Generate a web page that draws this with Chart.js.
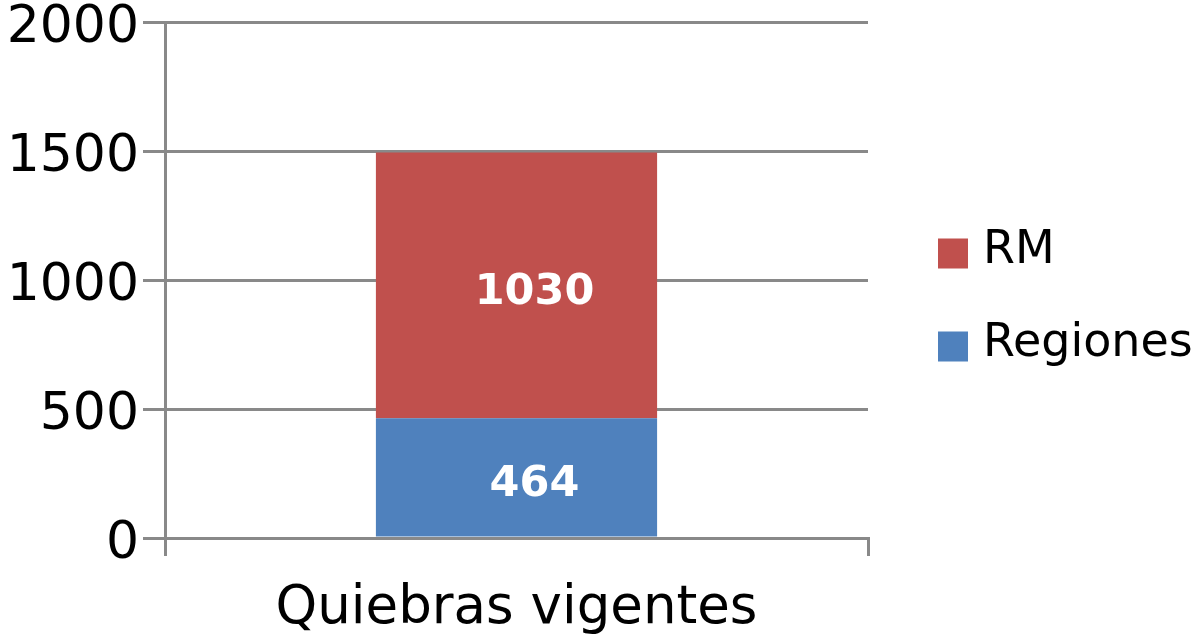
<!DOCTYPE html>
<html>
<head>
<meta charset="utf-8">
<script src="https://cdn.jsdelivr.net/npm/chart.js@4/dist/chart.umd.min.js"></script>
<style>
  html, body { margin: 0; padding: 0; background: #fff; }
  #wrap { width: 1196px; height: 639px; }
</style>
</head>
<body>
<div id="wrap"><canvas id="chart"></canvas></div>
<script>
var categories = ["Quiebras vigentes"];
var regiones = [464];
var rm = [1030];
var yTicks = [0, 500, 1000, 1500, 2000];

var axisGray = "#898989";
var fontName = "'DejaVu Sans', Verdana, sans-serif";

// white numbers inside each stacked segment
var barValues = {
  id: "barValues",
  afterDatasetsDraw: function(chart) {
    var ctx = chart.ctx;
    ctx.save();
    ctx.font = "bold 43px " + fontName;
    ctx.fillStyle = "#ffffff";
    ctx.textAlign = "center";
    ctx.textBaseline = "middle";
    chart.data.datasets.forEach(function(ds, i) {
      var meta = chart.getDatasetMeta(i);
      meta.data.forEach(function(bar, j) {
        var yc = (bar.y + bar.base) / 2;
        ctx.fillText(ds.data[j], bar.x + 18, yc + 7);
      });
    });
    ctx.restore();
  }
};

// legend to the right, RM on top
var sideLegend = {
  id: "sideLegend",
  afterDraw: function(chart) {
    var ctx = chart.ctx;
    var area = chart.chartArea;
    var items = chart.data.datasets.slice().reverse();
    var x = area.right + 70;
    var top = (area.top + area.bottom) / 2 + 20 - 61.5;
    ctx.save();
    ctx.font = "46px " + fontName;
    ctx.textBaseline = "middle";
    ctx.textAlign = "left";
    items.forEach(function(ds, k) {
      var y = top + k * 93;
      ctx.fillStyle = ds.backgroundColor;
      ctx.fillRect(x, y, 30, 30);
      ctx.fillStyle = "#000";
      ctx.fillText(ds.label, x + 45, y + 13);
    });
    ctx.restore();
  }
};

new Chart(document.getElementById("chart"), {
  type: "bar",
  data: {
    labels: categories,
    datasets: [
      { label: "Regiones", data: regiones, backgroundColor: "#4F81BD" },
      { label: "RM", data: rm, backgroundColor: "#C0504D" }
    ]
  },
  options: {
    responsive: true,
    maintainAspectRatio: false,
    animation: false,
    layout: { padding: { left: 0, right: 328, top: 22, bottom: 0 } },
    plugins: {
      legend: { display: false },
      tooltip: { enabled: false }
    },
    datasets: {
      bar: { barPercentage: 0.4, categoryPercentage: 1 }
    },
    scales: {
      x: {
        stacked: true,
        afterFit: function(scale) { scale.height = 101; },
        grid: {
          offset: true,
          drawOnChartArea: false,
          color: axisGray,
          lineWidth: 3,
          tickLength: 18
        },
        border: { color: axisGray, width: 3 },
        ticks: {
          color: "#000",
          padding: 33,
          font: { family: fontName, size: 53, lineHeight: 0.76 }
        }
      },
      y: {
        stacked: true,
        min: 0,
        max: 2000,
        afterFit: function(scale) { scale.width = 165; },
        afterBuildTicks: function(scale) {
          scale.ticks = yTicks.map(function(v) { return { value: v }; });
        },
        grid: {
          color: axisGray,
          lineWidth: 3,
          tickLength: 22
        },
        border: { color: axisGray, width: 3 },
        ticks: {
          color: "#000",
          padding: 4,
          labelOffset: 6,
          font: { family: fontName, size: 52, lineHeight: 0.5 },
          callback: function(value) { return String(value); }
        }
      }
    }
  },
  plugins: [barValues, sideLegend]
});
</script>
</body>
</html>
